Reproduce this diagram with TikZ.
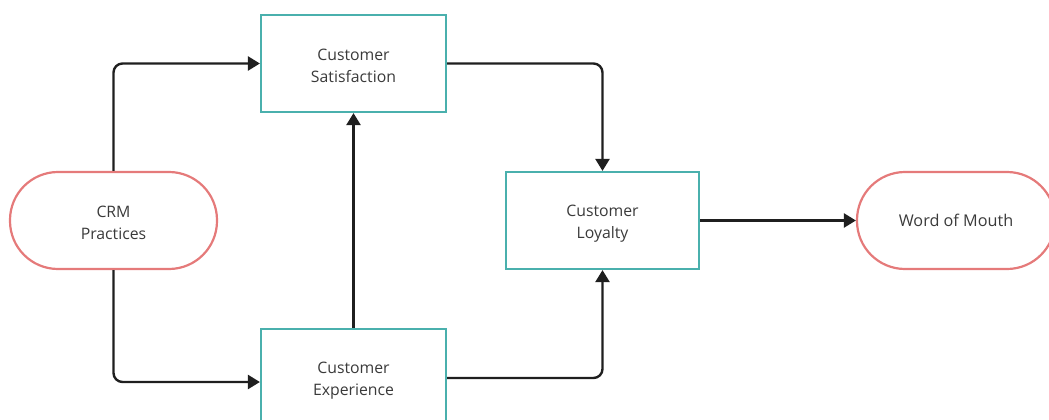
\documentclass[tikz,border=0pt]{standalone}
\usepackage{fontspec}
\setmainfont{Open Sans}
\usetikzlibrary{arrows.meta}
\definecolor{teal}{HTML}{4AB0AD}
\definecolor{pinkred}{HTML}{E57A7A}
\definecolor{txt}{HTML}{3A3A3A}
\newcommand{\lowerstrut}{\rule{0pt}{17pt}}
\begin{document}
\begin{tikzpicture}[x=1pt,y=-1pt,
  every node/.style={font=\fontsize{15.8}{22}\selectfont, text=txt, align=center, inner sep=0pt},
  procbox/.style={draw=teal, line width=2.2pt, minimum height=97pt},
  termbox/.style={draw=pinkred, line width=2.2pt, minimum height=97pt, rounded corners=48pt},
  conn/.style={line width=2.4pt, draw=black!88, rounded corners=9pt, -{Triangle[length=12pt,width=14pt]}}
]
\useasboundingbox (0,0) rectangle (1049,420);
\node[termbox, minimum width=207pt] (crm) at (113.5,220.5) {\lowerstrut CRM\\Practices};
\node[procbox, minimum width=185pt] (sat) at (353.5,63.5) {\lowerstrut Customer\\Satisfaction};
\node[procbox, minimum width=185pt] (exp) at (353.5,377.5) {\lowerstrut Customer\\Experience};
\node[procbox, minimum width=193pt] (loy) at (602.5,220.5) {\lowerstrut Customer\\Loyalty};
\node[termbox, minimum width=198pt, font=\fontsize{16.2}{22}\selectfont] (wom) at (956,220.5) {Word of Mouth};
\coordinate (c1) at (crm.north |- sat.west);
\coordinate (c2) at (crm.south |- 0,382);
\draw[conn] (crm.north) -- (c1) -- (sat.west);
\draw[conn] (crm.south) -- (c2) -- (exp.west |- c2);
\draw[conn] (exp.north) -- (sat.south);
\draw[conn] (sat.east) -- (loy.north |- sat.east) -- (loy.north);
\draw[conn] (exp.east |- 0,378) -- (loy.south |- 0,378) -- (loy.south);
\draw[conn] (loy.east) -- (wom.west);
\end{tikzpicture}
\end{document}
